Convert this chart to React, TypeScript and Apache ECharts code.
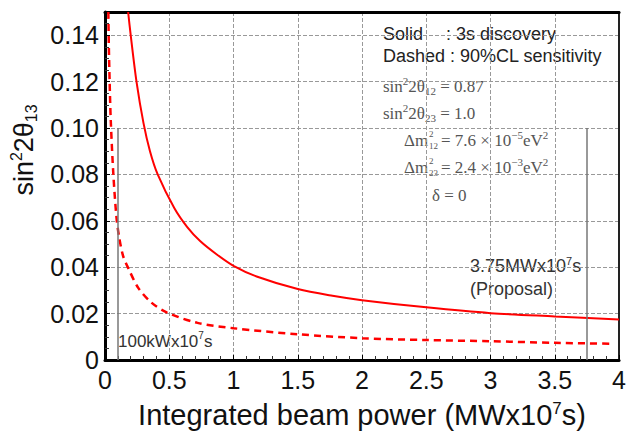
import React, { useEffect, useRef } from "react";
import * as echarts from "echarts";

const xTicks = [0, 0.5, 1, 1.5, 2, 2.5, 3, 3.5, 4];
const yTicks = [0, 0.02, 0.04, 0.06, 0.08, 0.1, 0.12, 0.14];

const solidX = [0.18, 0.2, 0.245, 0.3, 0.35, 0.41, 0.54, 0.64, 0.74, 0.87, 1.0, 1.18, 1.5, 1.77, 2.0, 2.5, 3.0, 3.5, 4.0];
const solidY = [0.15, 0.14, 0.12, 0.102, 0.09, 0.08, 0.0654, 0.0573, 0.0513, 0.0455, 0.0406, 0.036, 0.0306, 0.0277, 0.0258, 0.0227, 0.0202, 0.0188, 0.0175];

const dashedX = [0.026, 0.03, 0.036, 0.045, 0.065, 0.09, 0.11, 0.14, 0.18, 0.26, 0.36, 0.48, 0.72, 1.0, 1.5, 2.0, 2.5, 3.0, 3.5, 3.95];
const dashedY = [0.15, 0.135, 0.12, 0.103, 0.08, 0.061, 0.053, 0.045, 0.0397, 0.031, 0.0248, 0.0205, 0.016, 0.0137, 0.0111, 0.0094, 0.0086, 0.0081, 0.0074, 0.007];

const markerX = [0.1, 3.75];
const markerTop = 0.1;

const FONT = "Liberation Sans, Arial, sans-serif";
const SERIF = "Liberation Serif, Times New Roman, serif";
const MATH = "#555";

export default function App() {
  const ref = useRef<HTMLDivElement>(null);
  useEffect(() => {
    if (!ref.current) return;
    const chart = echarts.init(ref.current, undefined, { renderer: "svg" });
    const mathRich = {
      n: { fontSize: 17, fontFamily: SERIF, fill: MATH, lineHeight: 21 },
      sup: { fontSize: 11, fontFamily: SERIF, fill: MATH, lineHeight: 11, verticalAlign: "top" },
      sub: { fontSize: 11, fontFamily: SERIF, fill: MATH, lineHeight: 11, verticalAlign: "bottom" },
    };
    const mathText = (x: number, y: number, text: string) => ({
      type: "text",
      x,
      y,
      style: {
        text,
        rich: mathRich,
        fill: MATH,
        font: `17px ${SERIF}`,
        textVerticalAlign: "middle",
        textAlign: "left",
      },
      silent: true,
    });
    const plainText = (x: number, y: number, text: string, size: number, color = "#222") => ({
      type: "text",
      x,
      y,
      style: {
        text,
        fill: color,
        font: `${size}px ${FONT}`,
        textVerticalAlign: "middle",
        textAlign: "left",
        rich: {
          n: { fontSize: size, fontFamily: FONT, fill: color, lineHeight: size + 4 },
          sup: { fontSize: Math.round(size * 0.6), fontFamily: FONT, fill: color, lineHeight: Math.round(size * 0.6), verticalAlign: "top" },
        },
      },
      silent: true,
    });
    const stackedDelta = (x: number, y: number, sub: string, rest: string) => ({
      type: "group",
      x,
      y,
      children: [
        { type: "text", x: 0, y: 0, style: { text: "Δm", font: `17px ${SERIF}`, fill: MATH, textVerticalAlign: "middle" } },
        { type: "text", x: 25, y: -6, style: { text: "2", font: `9px ${SERIF}`, fill: MATH, textVerticalAlign: "middle" } },
        { type: "text", x: 25, y: 6, style: { text: sub, font: `9px ${SERIF}`, fill: MATH, textVerticalAlign: "middle" } },
        { type: "text", x: 37, y: 0, style: { text: rest, rich: mathRich, font: `17px ${SERIF}`, fill: MATH, textVerticalAlign: "middle" } },
      ],
      silent: true,
    });

    chart.setOption({
      animation: false,
      grid: { left: 105, right: 8, top: 12, bottom: 71, containLabel: false },
      xAxis: [
        {
          type: "value",
          min: xTicks[0],
          max: xTicks[xTicks.length - 1],
          interval: 0.5,
          position: "bottom",
          axisLine: { show: true, onZero: false, lineStyle: { color: "#000", width: 3 } },
          axisTick: { show: true, inside: true, length: 5, lineStyle: { color: "#000", width: 1 } },
          minorTick: { show: true, splitNumber: 5, length: 4, lineStyle: { color: "#333", width: 1 } },
          splitLine: { show: true, lineStyle: { color: "#999", type: [4, 2], width: 1 } },
          axisLabel: { fontSize: 25, color: "#111", fontFamily: FONT, margin: 7 },
          name: "Integrated beam power (MWx10{sup|7}s)",
          nameLocation: "middle",
          nameGap: 40,
          nameTextStyle: {
            fontSize: 29,
            color: "#111",
            fontFamily: FONT,
            rich: {
              sup: { fontSize: 17, fontFamily: FONT, color: "#111", verticalAlign: "top", lineHeight: 17 },
            },
          },
        },
        {
          type: "value",
          min: xTicks[0],
          max: xTicks[xTicks.length - 1],
          position: "top",
          axisLine: { show: true, onZero: false, lineStyle: { color: "#000", width: 3 } },
          axisTick: { show: false },
          axisLabel: { show: false },
          splitLine: { show: false },
        },
      ],
      yAxis: [
        {
          type: "value",
          min: yTicks[0],
          max: 0.15,
          interval: 0.02,
          axisLine: { show: true, onZero: false, lineStyle: { color: "#000", width: 3 } },
          axisTick: { show: true, inside: true, length: 5, lineStyle: { color: "#000", width: 1 } },
          minorTick: { show: true, splitNumber: 4, length: 4, lineStyle: { color: "#333", width: 1 } },
          splitLine: { show: true, lineStyle: { color: "#999", type: [4, 2], width: 1 } },
          axisLabel: {
            fontSize: 25,
            color: "#111",
            fontFamily: FONT,
            margin: 6,
            showMaxLabel: false,
            formatter: (v: number) => (v === 0 ? "0" : v.toFixed(2)),
          },
        },
        {
          type: "value",
          min: 0,
          max: 0.15,
          position: "right",
          axisLine: { show: true, onZero: false, lineStyle: { color: "#222", width: 2 } },
          axisTick: { show: false },
          axisLabel: { show: false },
          splitLine: { show: false },
        },
      ],
      series: [
        {
          type: "line",
          name: "3s discovery",
          data: solidX.map((x, i) => [x, solidY[i]]),
          showSymbol: false,
          smooth: 0.3,
          clip: true,
          lineStyle: { color: "#ff0000", width: 2, type: "solid" },
          markLine: {
            silent: true,
            symbol: "none",
            label: { show: false },
            lineStyle: { color: "#777", width: 1.5, type: "solid" },
            data: markerX.map((mx) => [{ coord: [mx, 0] }, { coord: [mx, markerTop] }]),
          },
        },
        {
          type: "line",
          name: "90%CL sensitivity",
          data: dashedX.map((x, i) => [x, dashedY[i]]),
          showSymbol: false,
          smooth: 0.3,
          clip: true,
          lineStyle: { color: "#ff0000", width: 2.5, type: [7, 5] },
        },
      ],
      graphic: [
        {
          type: "text",
          x: 24,
          y: 150,
          rotation: Math.PI / 2,
          style: {
            text: "{n|sin}{sup|2}{n|2θ}{sub|13}",
            textAlign: "center",
            textVerticalAlign: "middle",
            fill: "#111",
            rich: {
              n: { fontSize: 27, fontFamily: FONT, fill: "#111", lineHeight: 31 },
              sup: { fontSize: 16, fontFamily: FONT, fill: "#111", lineHeight: 16, verticalAlign: "top" },
              sub: { fontSize: 16, fontFamily: FONT, fill: "#111", lineHeight: 16, verticalAlign: "bottom" },
            },
          },
          silent: true,
        },
        plainText(383, 34, "Solid", 18),
        plainText(446, 34, ": 3s discovery", 18),
        plainText(383, 56, "Dashed : 90%CL sensitivity", 18),
        mathText(383, 86, "{n|sin}{sup|2}{n|2θ}{sub|12}{n| = 0.87}"),
        mathText(383, 113, "{n|sin}{sup|2}{n|2θ}{sub|23}{n| = 1.0}"),
        stackedDelta(404, 140, "12", "{n|= 7.6 × 10}{sup|−5}{n|eV}{sup|2}"),
        stackedDelta(404, 167, "23", "{n|= 2.4 × 10}{sup|−3}{n|eV}{sup|2}"),
        mathText(432, 195, "{n|δ = 0}"),
        plainText(118, 341, "{n|100kWx10}{sup|7}{n|s}", 17, "#333"),
        plainText(470, 266, "{n|3.75MWx10}{sup|7}{n|s}", 18, "#333"),
        plainText(470, 289, "(Proposal)", 18, "#333"),
      ],
    });
    return () => chart.dispose();
  }, []);
  return <div ref={ref} style={{ position: "absolute", left: 0, top: 0, width: 629, height: 434 }} />;
}
